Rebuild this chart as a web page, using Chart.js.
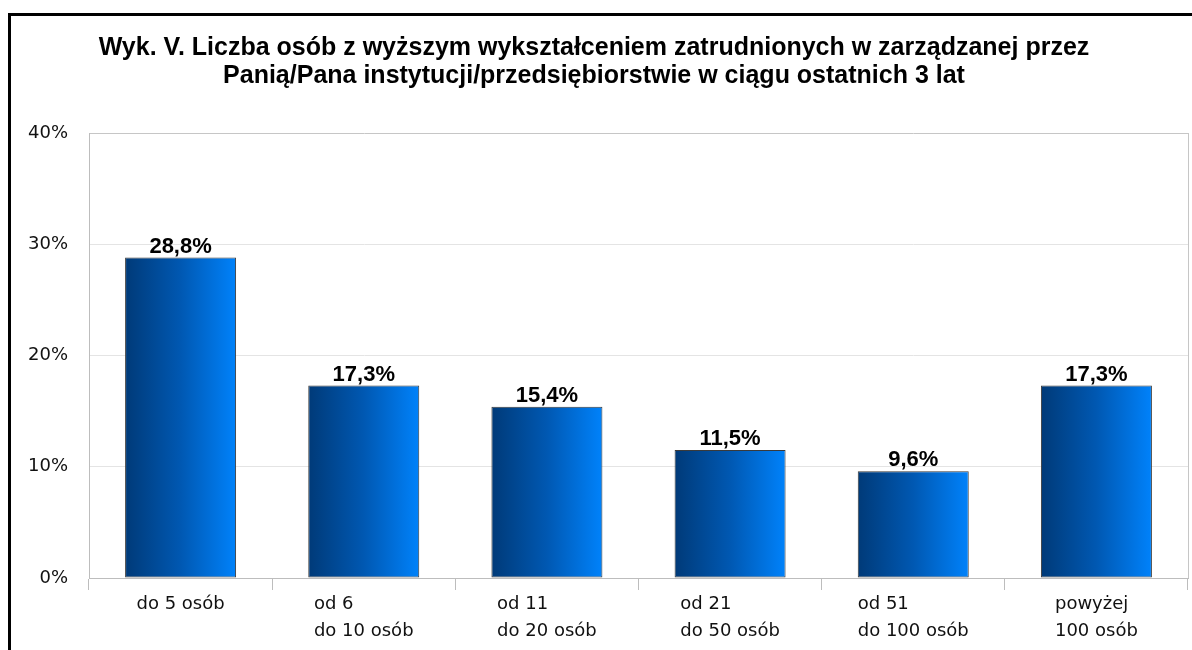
<!DOCTYPE html>
<html>
<head>
<meta charset="utf-8">
<script src="https://cdn.jsdelivr.net/npm/chart.js@4"></script>
<style>
  html,body{margin:0;padding:0;background:#fff;overflow:hidden}
  #frame{position:absolute;left:8px;top:13px;width:1250px;height:700px;border:3px solid #000;box-sizing:border-box}
  #wrap{position:absolute;left:0;top:0;width:1192px;height:650px}
</style>
</head>
<body>
<div id="frame"></div>
<div id="wrap"><canvas id="c"></canvas></div>
<script>
'use strict';
/* Wyk. V — zatrudnienie osób z wyższym wykształceniem */
const titleLines = ['Wyk. V. Liczba osób z wyższym wykształceniem zatrudnionych w zarządzanej przez',
                    'Panią/Pana instytucji/przedsiębiorstwie w ciągu ostatnich 3 lat'];
const categories = [['do 5 osób'], ['od 6','do 10 osób'], ['od 11','do 20 osób'],
                    ['od 21','do 50 osób'], ['od 51','do 100 osób'], ['powyżej','100 osób']];
const values = [28.8, 17.3, 15.4, 11.5, 9.6, 17.3];
const yTicks = [0, 10, 20, 30, 40];

const TICK_FONT = '18px "DejaVu Sans"';
const BAR_PCT = 0.606;

function barFill(c){
  const chart=c.chart, xs=chart.scales.x;
  if(!xs || !chart.chartArea) return '#0059b5';
  const cx=xs.getPixelForValue(c.dataIndex);
  const half=(chart.chartArea.width/categories.length)*BAR_PCT/2;
  const g=chart.ctx.createLinearGradient(cx-half,0,cx+half,0);
  g.addColorStop(0,'#003a78'); g.addColorStop(0.5,'#0058b2'); g.addColorStop(1,'#0082fb');
  return g;
}

// plot frame on right side + value labels + left-aligned multi-line category labels
const extras={
  id:'extras',
  beforeDatasetsDraw(chart){
    const {ctx,chartArea:a}=chart;
    ctx.save(); ctx.strokeStyle='#c6c6c6'; ctx.lineWidth=1;
    ctx.beginPath(); ctx.moveTo(Math.round(a.right)+0.5,a.top); ctx.lineTo(Math.round(a.right)+0.5,a.bottom); ctx.stroke();
    ctx.restore();
  },
  afterDatasetsDraw(chart){
    const {ctx}=chart, meta=chart.getDatasetMeta(0), xs=chart.scales.x;
    ctx.save();
    ctx.fillStyle='#000'; ctx.textAlign='center'; ctx.textBaseline='alphabetic';
    ctx.font='bold 22px "Liberation Sans", Arial, sans-serif';
    meta.data.forEach((bar,i)=>{
      ctx.fillText(values[i].toFixed(1).replace('.',',')+'%', bar.x, bar.y-5);
    });
    ctx.font=TICK_FONT; ctx.fillStyle='#111'; ctx.textAlign='left';
    categories.forEach((lines,i)=>{
      const cx=xs.getPixelForValue(i);
      const w=Math.max(...lines.map(l=>ctx.measureText(l).width));
      lines.forEach((l,j)=>ctx.fillText(l, cx-w/2, xs.top+31+j*27));
    });
    ctx.restore();
  }
};

new Chart(document.getElementById('c'),{
  type:'bar',
  data:{labels:categories.map(l=>l.join(' ')),datasets:[{data:values,backgroundColor:barFill,borderColor:'#3a3a3a',borderWidth:1,borderSkipped:false,barPercentage:BAR_PCT,categoryPercentage:1}]},
  options:{
    responsive:true, maintainAspectRatio:false, animation:false,
    layout:{padding:{left:0,right:4,top:0,bottom:0}},
    plugins:{
      legend:{display:false}, tooltip:{enabled:false},
      title:{display:true,text:titleLines,color:'#000',font:{family:'"Liberation Sans", Arial, sans-serif',size:25,weight:'bold',lineHeight:28/25},padding:{top:34,bottom:43}}
    },
    scales:{
      x:{
        offset:true,
        grid:{offset:true,drawOnChartArea:false,drawTicks:true,tickLength:12,color:'#bdbdbd'},
        border:{color:'#bdbdbd'},
        ticks:{display:false},
        afterFit(s){ s.height=72; }
      },
      y:{
        min:0,max:40,
        afterBuildTicks(s){ s.ticks=yTicks.map(v=>({value:v})); },
        grid:{drawTicks:false,color:c=>c.tick&&c.tick.value===40?'#c6c6c6':(c.tick&&c.tick.value===0?'rgba(0,0,0,0)':'#e4e4e4')},
        border:{color:'#bdbdbd'},
        ticks:{padding:21,color:'#111',font:{family:'"DejaVu Sans"',size:18},callback:v=>v+'%'},
        afterFit(s){ s.width=89; }
      }
    }
  },
  plugins:[extras]
});
</script>
</body>
</html>
